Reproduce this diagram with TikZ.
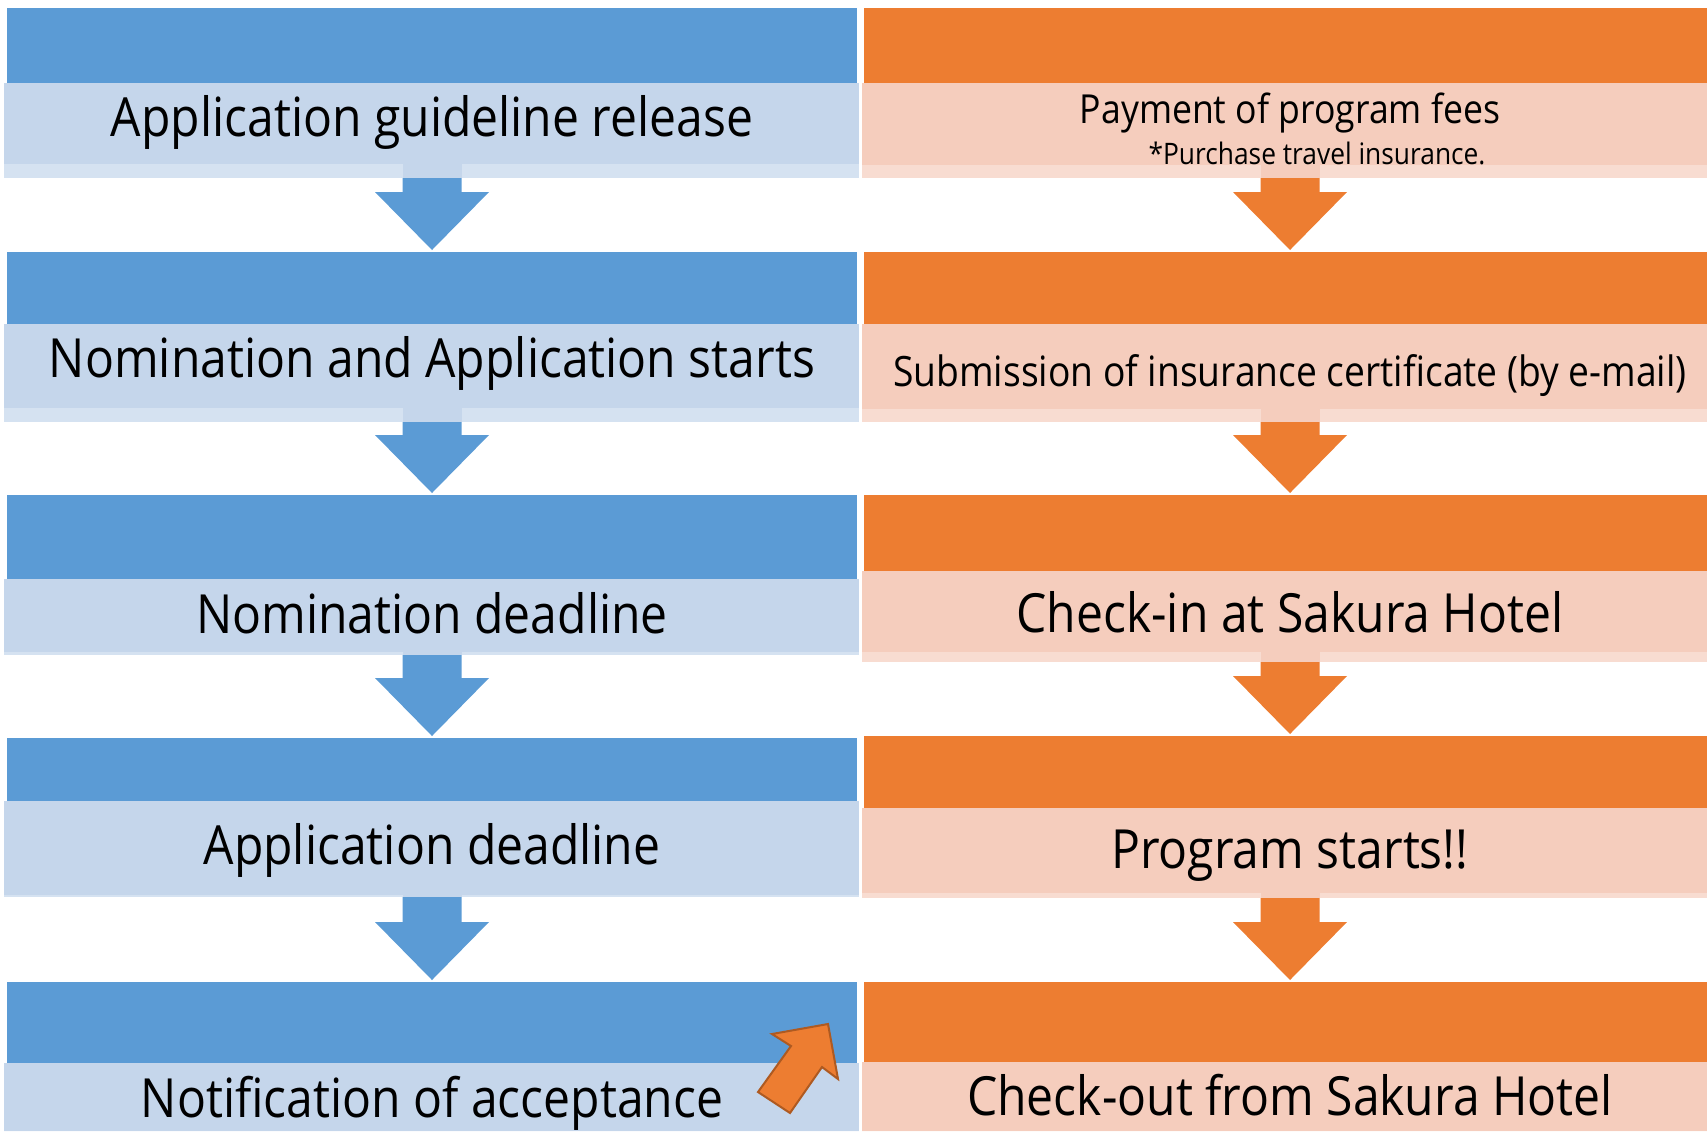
\documentclass[tikz,border=0pt]{standalone}
\usepackage{fontspec}
\setmainfont{Open Sans}[FakeStretch=0.89]
\usepackage{tikz}
\usetikzlibrary{calc}

\definecolor{blueD}{HTML}{5B9BD5}
\definecolor{blueL}{HTML}{C5D6EB}
\definecolor{blueS}{HTML}{D5E2F1}
\definecolor{orangeD}{HTML}{ED7D31}
\definecolor{orangeL}{HTML}{F5CDBD}
\definecolor{orangeS}{HTML}{F8DCD1}
\definecolor{orangeE}{HTML}{AE5A21}

\tikzset{
  band/.style={fill=#1, draw=none, inner sep=0pt, outer sep=0pt},
  lbl/.style={anchor=base, inner sep=0pt, font=\fontsize{27}{30}\selectfont}
}

\begin{document}
\begin{tikzpicture}[x=0.5pt,y=-0.5pt]
  \useasboundingbox (0,0) rectangle (1707,1131);

  \coordinate (lx) at (432,0);
  \coordinate (rx) at (1290,0);

  % left column: top band, box, strip
  \foreach \n/\t/\m/\b/\s in {1/8/83/164/178, 2/252/324/408/422, 3/495/579/652/655,
                              4/738/801/895/897, 5/982/1063/1131/1131} {
    \node[band=blueD, minimum width=425pt, minimum height={(\m-\t)*0.5pt}]
      (ltop\n) at (432,{(\t+\m)/2}) {};
    \node[band=blueL, minimum width=427.5pt, minimum height={(\b-\m)*0.5pt}]
      (lbox\n) at (431.5,{(\m+\b)/2}) {};
    \node[band=blueS, minimum width=427.5pt, minimum height={(\s-\b)*0.5pt}]
      (lstrip\n) at (431.5,{(\b+\s)/2}) {};
  }

  % right column
  \foreach \n/\t/\m/\b/\s in {1/8/83/165/178, 2/252/324/409/422, 3/495/571/652/662,
                              4/736/808/893/898, 5/982/1062/1131/1131} {
    \node[band=orangeD, minimum width=421.5pt, minimum height={(\m-\t)*0.5pt}]
      (rtop\n) at (1285.5,{(\t+\m)/2}) {};
    \node[band=orangeL, minimum width=422.5pt, minimum height={(\b-\m)*0.5pt}]
      (rbox\n) at (1284.5,{(\m+\b)/2}) {};
    \node[band=orangeS, minimum width=422.5pt, minimum height={(\s-\b)*0.5pt}]
      (rstrip\n) at (1284.5,{(\b+\s)/2}) {};
  }

  % block arrows
  \foreach \c/\l/\s/\a/\b in {blueD/blueL/l/1/2, blueD/blueL/l/2/3, blueD/blueL/l/3/4,
                              blueD/blueL/l/4/5, orangeD/orangeL/r/1/2, orangeD/orangeL/r/2/3,
                              orangeD/orangeL/r/3/4, orangeD/orangeL/r/4/5} {
    \coordinate (p) at (\s strip\a.north -| \s x);
    \coordinate (q) at (\s strip\a.south -| \s x);
    \coordinate (tip) at ($(\s top\b.north -| \s x)+(0,-2)$);
    \fill[\l] ($(p)+(-29.5,0)$) rectangle ($(q)+(29.5,0)$);
    \fill[\c] ($(q)+(-29.5,0)$) -- ($(tip)+(-29.5,-58)$) -- ($(tip)+(-57,-58)$)
      -- (tip) -- ($(tip)+(57,-58)$) -- ($(tip)+(29.5,-58)$) -- ($(q)+(29.5,0)$) -- cycle;
  }

  % labels
  \node[lbl] (appl) at (432,136) {Application guideline release};
  \node[lbl] (nomi) at (432,377) {Nomination and Application starts};
  \node[lbl] (nomdl) at (432,633) {Nomination deadline};
  \node[lbl] (appdl) at (432,864) {Application deadline};
  \node[lbl] (notif) at (432,1117) {Notification of acceptance};

  \node[lbl, font=\fontsize{20}{22}\selectfont] (pay) at (1290,123) {Payment of program fees};
  \node[lbl, font=\fontsize{14.8}{16}\selectfont] (ins) at (1317,164) {*Purchase travel insurance.};
  \node[lbl, font=\fontsize{20.9}{24}\selectfont] (cert) at (1290,386)
    {Submission of insurance certificate (by e-mail)};
  \node[lbl] (chin) at (1290,632) {Check-in at Sakura Hotel};
  \node[lbl] (prog) at (1290,868) {Program starts!!};
  \node[lbl] (chout) at (1290,1115) {Check-out from Sakura Hotel};

  % tilted arrow on the last row
  \draw[fill=orangeD, draw=orangeE, line width=1pt, line join=miter]
    (828,1024) -- (838,1079) -- (822,1067) -- (790,1113) -- (758,1092)
    -- (791,1046) -- (772,1034) -- cycle;
\end{tikzpicture}
\end{document}
